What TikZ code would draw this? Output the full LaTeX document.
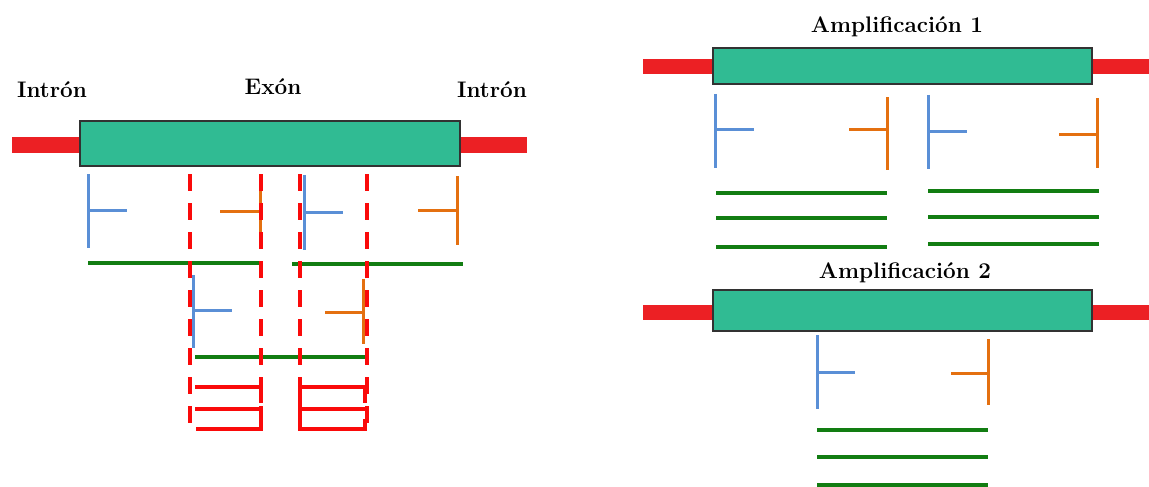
\documentclass[tikz,border=0pt]{standalone}
\usetikzlibrary{positioning}
\definecolor{exon}{RGB}{48,187,147}
\definecolor{boxline}{RGB}{50,50,50}
\definecolor{intron}{RGB}{236,32,36}
\definecolor{fwd}{RGB}{90,143,214}
\definecolor{rev}{RGB}{228,112,16}
\definecolor{prod}{RGB}{18,125,18}
\definecolor{cut}{RGB}{250,10,10}
\tikzset{
  exonbox/.style={draw=boxline, line width=2.5pt, fill=exon},
  intronbar/.style={draw=intron, line width=16pt},
  primerF/.style={draw=fwd, line width=3pt},
  primerR/.style={draw=rev, line width=3pt},
  product/.style={draw=prod, line width=4pt},
  cutline/.style={draw=cut, line width=4pt, dash pattern=on 17pt off 12pt},
  cutshape/.style={draw=cut, line width=4pt},
  lbl/.style={font=\fontsize{22.5}{27}\selectfont\bfseries, inner sep=0pt, anchor=base}
}
\begin{document}
\begin{tikzpicture}[x=1pt, y=-1pt]
\useasboundingbox (0,0) rectangle (1149,487);
% ---------- Left diagram ----------
\draw[intronbar] (12,145) -- (80,145);
\draw[intronbar] (460,145) -- (527,145);
\node[exonbox, minimum width=380pt, minimum height=45pt, inner sep=0pt] (exL) at (270,143.5) {};
\node[lbl] (intronL) at (52,98) {Intrón};
\node[lbl] (exonT) at (273,95) {Exón};
\node[lbl] (intronR) at (492,98) {Intrón};
% primers row 1
\draw[primerF] (88,174) -- (88,248) (88,210) -- (127,210);
\draw[primerR] (260,176) -- (260,248) (260,211) -- (220,211);
\draw[primerF] (304,175) -- (304,250) (304,212) -- (343,212);
\draw[primerR] (457,176) -- (457,245) (457,210) -- (418,210);
% products row 1
\draw[product] (88,263) -- (259,263);
\draw[product] (292,264) -- (463,264);
% primers row 2
\draw[primerF] (193,275) -- (193,348) (193,310) -- (232,310);
\draw[primerR] (363,279) -- (363,344) (363,312) -- (325,312);
\draw[product] (195,357) -- (366,357);
% cut lines
\draw[cutline] (190,174) -- (190,432);
\draw[cutline] (261,174) -- (261,432);
\draw[cutline] (300,174) -- (300,432);
\draw[cutline] (367,174) -- (367,432);
% red fragments
\draw[cutshape] (195,387) -- (261,387) -- (261,403);
\draw[cutshape] (195,409) -- (261,409);
\draw[cutshape] (261,419) -- (261,429) -- (196,429);
\draw[cutshape] (300,409) -- (300,387) -- (365,387) -- (365,403);
\draw[cutshape] (300,409) -- (365,409);
\draw[cutshape] (300,419) -- (300,429) -- (365,429) -- (365,419);
% ---------- Amplificacion 1 ----------
\node[lbl] (amp1) at (897,33) {Amplificación 1};
\draw[intronbar, line width=15pt] (643,66.5) -- (713,66.5);
\draw[intronbar, line width=15pt] (1092,66.5) -- (1149,66.5);
\node[exonbox, minimum width=379pt, minimum height=36pt, inner sep=0pt] (ex1) at (902.5,66) {};
\draw[primerF] (715,94) -- (715,168) (715,129) -- (754,129);
\draw[primerR] (887,97) -- (887,170) (887,129) -- (849,129);
\draw[primerF] (928,95) -- (928,169) (928,131) -- (967,131);
\draw[primerR] (1097,98) -- (1097,168) (1097,134) -- (1059,134);
\draw[product] (716,193) -- (887,193);
\draw[product] (716,218) -- (887,218);
\draw[product] (716,247) -- (887,247);
\draw[product] (928,191) -- (1099,191);
\draw[product] (928,217) -- (1099,217);
\draw[product] (928,244) -- (1099,244);
% ---------- Amplificacion 2 ----------
\node[lbl] (amp2) at (905,278) {Amplificación 2};
\draw[intronbar, line width=15pt] (643,312) -- (713,312);
\draw[intronbar, line width=15pt] (1092,312) -- (1149,312);
\node[exonbox, minimum width=379pt, minimum height=41pt, inner sep=0pt] (ex2) at (902.5,310.5) {};
\draw[primerF] (817,335) -- (817,409) (817,372) -- (855,372);
\draw[primerR] (988,339) -- (988,405) (988,373) -- (951,373);
\draw[product] (817,430) -- (988,430);
\draw[product] (817,457) -- (988,457);
\draw[product] (817,485) -- (988,485);
\end{tikzpicture}
\end{document}
